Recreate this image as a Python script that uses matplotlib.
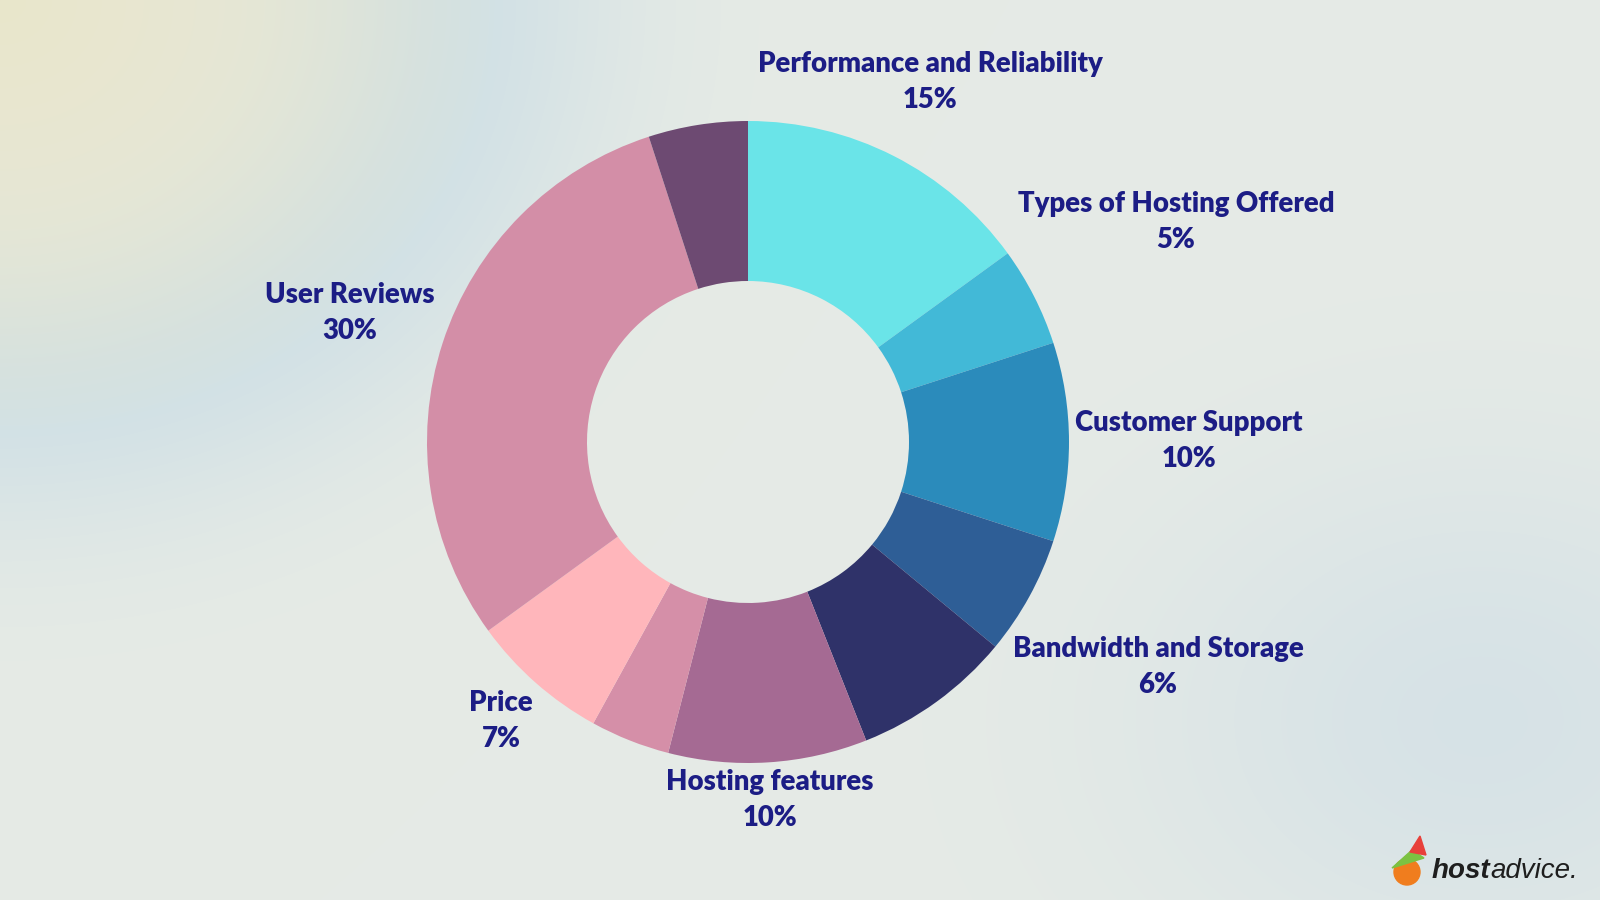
import numpy as np
import matplotlib.pyplot as plt
from matplotlib.patches import Circle, Polygon

# segment data, clockwise from 12 o'clock
segments = ['Performance and Reliability', 'Types of Hosting Offered', 'Customer Support',
            'Bandwidth and Storage', '', 'Hosting features', '', 'Price', 'User Reviews', '']
shares = [15, 5, 10, 6, 8, 10, 4, 7, 30, 5]
colors = ['#6ae4e8', '#42b9d7', '#2b8bbb', '#2e5e96', '#2f3269',
          '#a56a93', '#d58fa8', '#ffb6bb', '#d38ea7', '#6d4a72']

# label placement (pixel coords from the top-left of the 1600x900 canvas)
label_pos = {
    'Performance and Reliability': (930, 82),
    'Types of Hosting Offered': (1176, 222),
    'Customer Support': (1189, 441),
    'Bandwidth and Storage': (1158, 667),
    'Hosting features': (770, 800),
    'Price': (501, 721),
    'User Reviews': (350, 313),
}

W, H = 1600, 900
text_color = '#1c1d85'

plt.rcParams['font.family'] = ['Lato', 'DejaVu Sans']

fig = plt.figure(figsize=(16, 9), dpi=100)
ax = fig.add_axes([0, 0, 1, 1])

# soft background gradient
yy, xx = np.mgrid[0:H, 0:W].astype(float)
base = np.array([230, 235, 230]) / 255
img = np.ones((H, W, 3)) * base
d = np.sqrt((xx / 1.15) ** 2 + (yy / 1.0) ** 2)
yellow = np.array([233, 230, 203]) / 255
w_y = np.clip(1 - d / 430, 0, 1) ** 0.7
blue = np.array([206, 223, 229]) / 255
w_b = np.exp(-((d - 380) / 160) ** 2) * 0.9
img = img * (1 - w_b[..., None]) + blue * w_b[..., None]
img = img * (1 - w_y[..., None]) + yellow * w_y[..., None]
d2 = np.sqrt(((xx - 1480) / 1.3) ** 2 + (yy - 720) ** 2)
blue2 = np.array([212, 225, 231]) / 255
w_b2 = np.exp(-(d2 / 260) ** 2) * 0.85
img = img * (1 - w_b2[..., None]) + blue2 * w_b2[..., None]
ax.imshow(img, extent=(0, W, 0, H), origin='upper', zorder=0, aspect='auto')

# donut
ax.pie(shares, colors=colors, startangle=90, counterclock=False,
       center=(748, H - 442), radius=321, frame=True,
       wedgeprops=dict(width=160, linewidth=0))
ax.set_xlim(0, W)
ax.set_ylim(0, H)
ax.set_aspect('equal')
ax.axis('off')

for name, share in zip(segments, shares):
    if not name:
        continue
    x, y = label_pos[name]
    ax.text(x, H - y, f'{name}\n{share}%', ha='center', va='center',
            fontsize=19.8, fontweight='heavy', color=text_color,
            linespacing=1.45, zorder=5)

# logo: small fox-ish badge plus wordmark
ax.add_patch(Circle((1407, H - 872), 13, color='#f07d1e', zorder=5))
ax.add_patch(Polygon([(1392, H - 868), (1412, H - 850), (1424, H - 858)],
                     color='#7cc242', zorder=6))
ax.add_patch(Polygon([(1410, H - 852), (1420, H - 836), (1426, H - 855)],
                     color='#e8403a', zorder=6))
t1 = ax.text(1432, H - 871, 'host', ha='left', va='center', fontsize=20,
             fontweight='bold', style='italic', color='#1e1e1e',
             family=['Liberation Sans'], zorder=5)
fig.canvas.draw()
bb = t1.get_window_extent().transformed(ax.transData.inverted())
ax.text(bb.x1, H - 871, 'advice.', ha='left', va='center', fontsize=20,
        style='italic', color='#1e1e1e', family=['Liberation Sans'], zorder=5)

fig.savefig('out.png', dpi=100)
